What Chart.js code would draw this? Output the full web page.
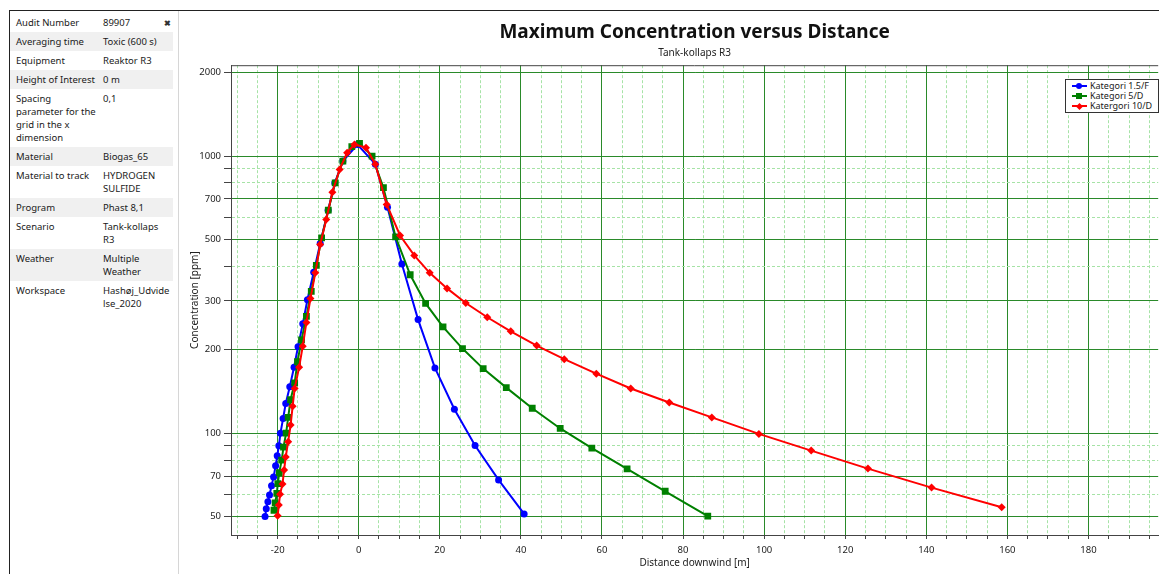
<!DOCTYPE html>
<html>
<head>
<meta charset="utf-8">
<script src="https://cdn.jsdelivr.net/npm/chart.js@4.4.1/dist/chart.umd.min.js"></script>
<style>
  html, body { margin: 0; padding: 0; width: 1159px; height: 574px; overflow: hidden; background: #fff;
    font-family: 'Noto Sans', sans-serif; color: #1a1a1a; }
  #topLine { position: absolute; left: 9px; top: 10px; width: 1150px; height: 1px; background: #222; }
  #info { position: absolute; left: 9px; top: 11px; width: 168px; height: 563px;
    border-left: 1px solid #222; border-right: 1px solid #d6d6d6; }
  #info table { border-collapse: collapse; margin-top: 2px; width: 163px; font-size: 9.5px; line-height: 13px; }
  #info td { padding: 3px 0 3px 6px; vertical-align: top; white-space: nowrap; }
  #info td.k { width: 81px; }
  #info tr.alt td { background: #f0f0f0; }
  #close { position: absolute; left: 154px; top: 6px; font-size: 8px; font-weight: bold; color: #333; }
  #chartWrap { position: absolute; left: 180px; top: 11px; width: 983px; height: 563px; }
  #legend { position: absolute; left: 1065px; top: 79px; width: 92px; height: 32px; border: 1px solid #333;
    background: #fff; font-size: 9px; }
  #legend .item { position: absolute; left: 6px; height: 10px; line-height: 10px; white-space: nowrap; }
  #legend .icon { position: absolute; left: 0; top: 0; width: 15px; height: 10px; }
  #legend .icon .ln { position: absolute; left: 0; top: 4px; width: 15px; height: 2px; }
  #legend .icon .mk { position: absolute; left: 4px; top: 2px; width: 6px; height: 6px; }
  #legend .txt { position: absolute; left: 18px; top: 0; }
</style>
</head>
<body>
<div id="topLine"></div>
<div id="info">
  <span id="close">✖</span>
  <table id="infoTable"></table>
</div>
<div id="chartWrap"><canvas id="chart"></canvas></div>
<div id="legend"></div>

<script>
// ===== Info panel =====
const infoKeys = ['Audit Number', 'Averaging time', 'Equipment', 'Height of Interest',
  'Spacing<br>parameter for the<br>grid in the x<br>dimension', 'Material', 'Material to track',
  'Program', 'Scenario', 'Weather', 'Workspace'];
const infoValues = ['89907', 'Toxic (600 s)', 'Reaktor R3', '0 m', '0,1', 'Biogas_65',
  'HYDROGEN<br>SULFIDE', 'Phast 8,1', 'Tank-kollaps<br>R3', 'Multiple<br>Weather', 'Hashøj_Udvide<br>lse_2020'];

// ===== Chart data =====
const seriesNames = ['Kategori 1.5/F', 'Kategori 5/D', 'Katergori 10/D'];
const seriesColors = ['#0000ff', '#008000', '#ff0000'];

const blueX = [-23.1, -22.8, -22.4, -22.0, -21.5, -21.0, -20.5, -20.1, -19.7, -19.3, -18.65, -18.0,
  -17.0, -15.95, -14.97, -13.8, -12.65, -11.1, -9.5, -7.55, -5.9, -3.9, -0.3, 4.1, 7.1, 10.65,
  14.65, 18.8, 23.6, 28.7, 34.5, 40.8];
const blueY = [50, 53.4, 56.6, 59.8, 64.6, 69.4, 76.2, 82.8, 90, 100, 113, 128,
  147, 173, 205, 248, 303, 381, 484, 637, 800, 959, 1100, 935, 654, 408,
  257, 172, 122, 90.2, 67.8, 51.1];

const greenX = [-20.9, -20.6, -20.2, -19.95, -19.6, -19.0, -18.55, -17.9, -17.4, -16.8, -15.8, -15.1,
  -14.1, -12.9, -11.7, -10.45, -9.15, -7.5, -5.8, -3.9, -1.7, 0.2, 3.3, 6.1, 9.1, 12.7, 16.5,
  20.8, 25.6, 30.7, 36.4, 42.8, 49.7, 57.5, 66.2, 75.6, 86.1];
const greenY = [52.7, 56, 60.6, 65.7, 72, 79.9, 89, 100, 114, 132, 152, 181,
  217, 264, 325, 403, 507, 638, 801, 959, 1081, 1112, 1000, 769, 511, 373, 294,
  242, 202, 171, 146, 123, 104, 88.3, 74.3, 61.7, 50.2];

const redX = [-20.0, -19.7, -19.4, -18.8, -18.4, -18.0, -17.4, -16.8, -16.3, -15.8, -14.7, -13.8,
  -12.9, -11.9, -10.7, -9.5, -8.0, -6.5, -4.7, -2.85, -1.05, 1.8, 4.1, 6.9, 10.2, 13.7, 17.5,
  21.8, 26.4, 31.7, 37.5, 43.9, 50.7, 58.6, 67.1, 76.6, 87.1, 98.7, 111.6, 125.6, 141.3, 158.6];
const redY = [50.3, 55, 60.2, 65.5, 73.7, 82.1, 93.2, 107, 125, 145, 173, 206,
  251, 306, 379, 480, 590, 741, 895, 1029, 1102, 1072, 935, 669, 517, 438, 379,
  333, 295, 262, 233, 207, 185, 164, 145, 129, 114, 99.4, 86.5, 74.5, 63.6, 54.0];

// tick labels and grid positions
const xLabelTicks = [-20, 0, 20, 40, 60, 80, 100, 120, 140, 160, 180];
const yGridTicks = [50, 60, 70, 80, 90, 100, 200, 300, 400, 500, 600, 700, 800, 900, 1000, 2000];
const yLabelTicks = [50, 70, 100, 200, 300, 500, 700, 1000, 2000];

// ===== Info table =====
document.getElementById('infoTable').innerHTML = infoKeys.map((k, i) => `
  <tr class="${i % 2 ? 'alt' : ''}"><td class="k">${k}</td><td>${infoValues[i]}</td></tr>
`).join('');

// ===== Legend (HTML) =====
const markerCss = [
  'border-radius:50%;',
  '',
  'transform:rotate(45deg);width:5px;height:5px;left:5px;top:2.5px;'
];
document.getElementById('legend').innerHTML = seriesNames.map((n, i) => `
  <div class="item" style="top:${1 + i * 10}px">
    <span class="icon"><span class="ln" style="background:${seriesColors[i]}"></span>
      <span class="mk" style="background:${seriesColors[i]};${markerCss[i]}"></span></span>
    <span class="txt">${n}</span>
  </div>
`).join('');

// ===== Chart =====
const FONT = 'Noto Sans';
const MAJOR = '#2a8a2a';
const MINOR = '#a6e3a6';
const isXMajor = v => xLabelTicks.some(t => Math.abs(t - v) < 1e-6);
const isYMajor = v => yLabelTicks.some(t => Math.abs(t - v) < 1e-6);

function toPoints(xs, ys) {
  return xs.map((x, i) => ({ x, y: ys[i] }));
}

// 上枠線
const frameTop = {
  id: 'frameTop',
  afterDraw(chart) {
    const { ctx, chartArea } = chart;
    ctx.save();
    ctx.strokeStyle = '#444';
    ctx.lineWidth = 1;
    ctx.beginPath();
    ctx.moveTo(chartArea.left, chartArea.top + 0.5);
    ctx.lineTo(chartArea.right, chartArea.top + 0.5);
    ctx.stroke();
    ctx.restore();
  }
};

const dsBase = { showLine: true, borderWidth: 2, tension: 0, pointBorderWidth: 0 };

new Chart(document.getElementById('chart'), {
  type: 'scatter',
  data: {
    datasets: [
      { ...dsBase, label: seriesNames[0], data: toPoints(blueX, blueY), borderColor: seriesColors[0],
        backgroundColor: seriesColors[0], pointStyle: 'circle', pointRadius: 3.5, order: 2 },
      { ...dsBase, label: seriesNames[1], data: toPoints(greenX, greenY), borderColor: seriesColors[1],
        backgroundColor: seriesColors[1], pointStyle: 'rect', pointRadius: 4.8, order: 1 },
      { ...dsBase, label: seriesNames[2], data: toPoints(redX, redY), borderColor: seriesColors[2],
        backgroundColor: seriesColors[2], pointStyle: 'rectRot', pointRadius: 4, order: 0 },
    ]
  },
  plugins: [frameTop],
  options: {
    responsive: true, maintainAspectRatio: false, animation: false,
    layout: { padding: 0 },
    plugins: {
      legend: { display: false },
      tooltip: { enabled: false },
      title: {
        display: true, text: 'Maximum Concentration versus Distance', fullSize: false,
        color: '#111', font: { family: FONT, size: 19, weight: 'bold' },
        padding: { top: 10, bottom: 3 }
      },
      subtitle: {
        display: true, text: 'Tank-kollaps R3', fullSize: false,
        color: '#222', font: { family: FONT, size: 10 },
        padding: { top: 0, bottom: 6.4 }
      }
    },
    scales: {
      x: {
        type: 'linear', min: -31.5, max: 197.2,
        afterFit: s => { s.height = 39; },
        ticks: {
          stepSize: 5, includeBounds: false, autoSkip: false, maxRotation: 0, padding: 6,
          color: '#222', font: { family: FONT, size: 9.5 },
          callback: v => isXMajor(v) ? String(Math.round(v)) : ''
        },
        grid: {
          color: c => c.tick && isXMajor(c.tick.value) ? MAJOR : MINOR,
          tickColor: '#444', tickLength: 4, tickBorderDash: [], lineWidth: 1
        },
        border: { color: '#444', dash: c => c.tick && !isXMajor(c.tick.value) ? [3, 2] : [] },
        title: {
          display: true, text: 'Distance downwind [m]', color: '#222',
          font: { family: FONT, size: 10 }, padding: { top: 0, bottom: 5 }
        }
      },
      y: {
        type: 'logarithmic', min: 42.9, max: 2128,
        afterFit: s => { s.width = 51; },
        afterBuildTicks: s => { s.ticks = yGridTicks.map(v => ({ value: v })); },
        ticks: {
          autoSkip: false, padding: 3, color: '#222', font: { family: FONT, size: 9.5 },
          callback: v => isYMajor(v) ? String(v) : ''
        },
        grid: {
          color: c => c.tick && isYMajor(c.tick.value) ? MAJOR : MINOR,
          tickColor: '#444', tickLength: 7, tickBorderDash: [], lineWidth: 1
        },
        border: { color: '#444', dash: c => c.tick && !isYMajor(c.tick.value) ? [3, 2] : [] },
        title: {
          display: true, text: 'Concentration [ppm]', color: '#222',
          font: { family: FONT, size: 10 }, padding: { top: 9, bottom: 0 }
        }
      }
    }
  }
});
</script>
</body>
</html>
